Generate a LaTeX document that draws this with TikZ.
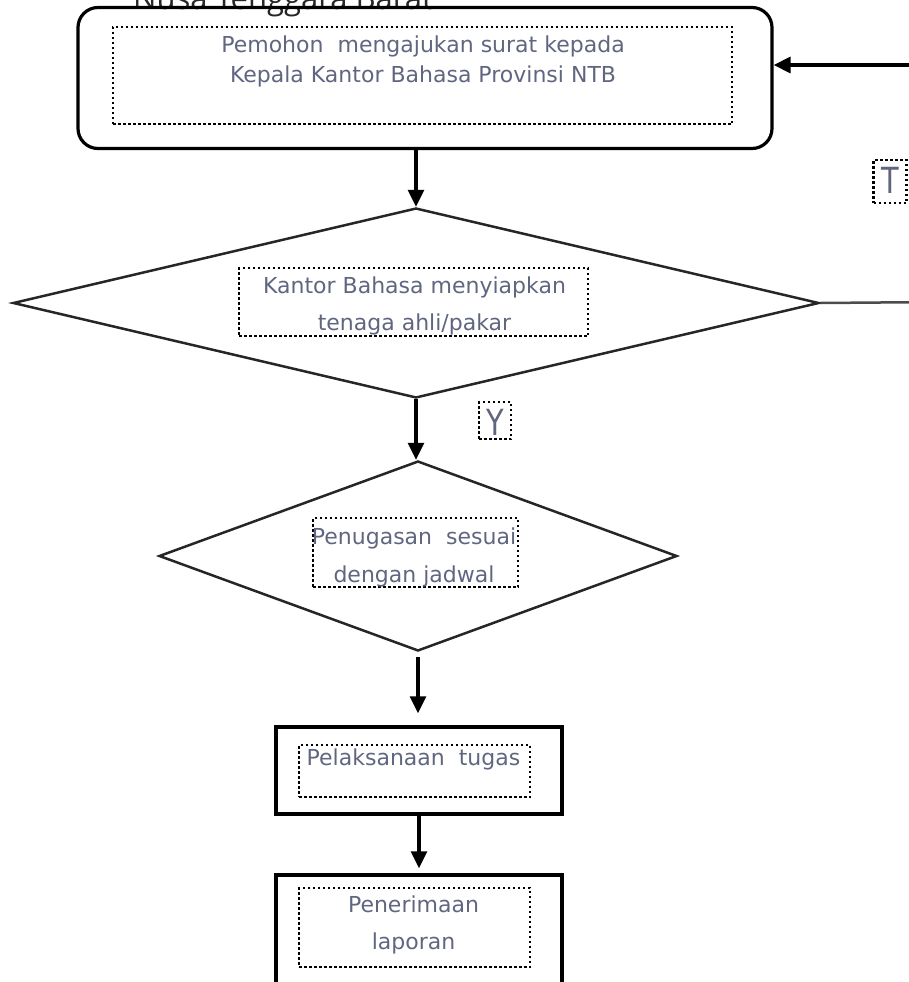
\documentclass[tikz,border=0pt]{standalone}
\usepackage{fontspec}
\setmainfont{DejaVu Sans}
\newfontfamily\titlefont{Open Sans}
\usetikzlibrary{shapes.geometric,arrows.meta}
\definecolor{txtc}{HTML}{606680}
\begin{document}
\begin{tikzpicture}[x=1pt,y=-1pt,
  frame/.style={draw=black,line width=3.2pt,inner sep=0pt},
  dia/.style={diamond,draw=black!85,line width=2.5pt,inner sep=0pt},
  inbox/.style={draw=black,line width=2.5pt,dash pattern=on 2.5pt off 2.5pt,inner sep=0pt},
  txt/.style={text=txtc,align=center,inner sep=0pt,anchor=north},
  lbl/.style={text=txtc,inner sep=0pt,anchor=base,font=\fontsize{36}{36}\selectfont},
  conn/.style={draw=black,line width=3.2pt,-{Triangle[length=17pt,width=16pt]}},
  loopline/.style={draw=black!70,line width=2.5pt},
]
\useasboundingbox (0,0) rectangle (908,982);

% title (cut at top, as in the reference)
\node[font=\titlefont\fontsize{31}{31}\selectfont,anchor=base west,text=black!85,inner sep=0pt] (title) at (133,10) {Nusa Tenggara Barat};

% box 1
\node[frame,rounded corners=20pt,minimum width=694pt,minimum height=141pt] (box1) at (425,78) {};
\node[inbox,minimum width=619pt,minimum height=97pt] (i1) at (422.5,75.5) {};
\node[txt,font=\fontsize{22}{30}\selectfont] (t1) at (423,35.5) {Pemohon\ \ mengajukan surat kepada\\Kepala Kantor Bahasa Provinsi NTB};

% diamond 1
\node[dia,minimum width=806pt,minimum height=190pt] (d1) at (416,303) {};
\node[inbox,minimum width=349pt,minimum height=68pt] (id1) at (413.5,302) {};
\node[txt,font=\fontsize{22}{37}\selectfont] (td1) at (414.5,276.5) {Kantor Bahasa menyiapkan\\tenaga ahli/pakar};

% diamond 2
\node[dia,minimum width=518pt,minimum height=190pt] (d2) at (418,556) {};
\node[inbox,minimum width=205pt,minimum height=69pt] (id2) at (415.5,552.5) {};
\node[txt,font=\fontsize{22}{38}\selectfont] (td2) at (414,527.5) {Penugasan\ \ sesuai\\dengan jadwal};

% box 3
\node[frame,line width=3.5pt,minimum width=286pt,minimum height=87pt] (box3) at (419,770.5) {};
\node[inbox,minimum width=231pt,minimum height=52pt] (i3) at (414.5,771) {};
\node[txt,font=\fontsize{22}{30}\selectfont] (t3) at (413.5,748.5) {Pelaksanaan\ \ tugas};

% box 4 (cut at bottom)
\node[frame,line width=3.5pt,minimum width=286pt,minimum height=124pt] (box4) at (419,937) {};
\node[inbox,minimum width=231pt,minimum height=79pt] (i4) at (414.5,927.5) {};
\node[txt,font=\fontsize{22}{37}\selectfont] (t4) at (413.5,895.5) {Penerimaan\\laporan};

% labels
\node[inbox,minimum width=33pt,minimum height=43pt] (tbox) at (890,181.5) {};
\node[lbl] (tl) at (890,193) {\scalebox{0.8}[1]{T}};
\node[inbox,minimum width=32pt,minimum height=37pt] (ybox) at (495,420.5) {};
\node[lbl] (yl) at (495,435) {\scalebox{0.8}[1]{Y}};

% connectors
\draw[conn] (d1.north |- box1.south) -- (d1.north);
\draw[conn] (d1.south) -- (d1.south |- d2.north);
\draw[conn,shorten <=5pt,shorten >=12pt] (d2.south) -- (d2.south |- box3.north);
\draw[conn,shorten >=5pt] (box3.south) -- (box3.south |- box4.north);

\coordinate (lp1) at (940,302);
\coordinate (lp2) at (940,65);
\draw[loopline] (d1.east) -- (lp1) -- (lp2);
\draw[conn] (lp2) -- (box1.east |- lp2);
\end{tikzpicture}
\end{document}
